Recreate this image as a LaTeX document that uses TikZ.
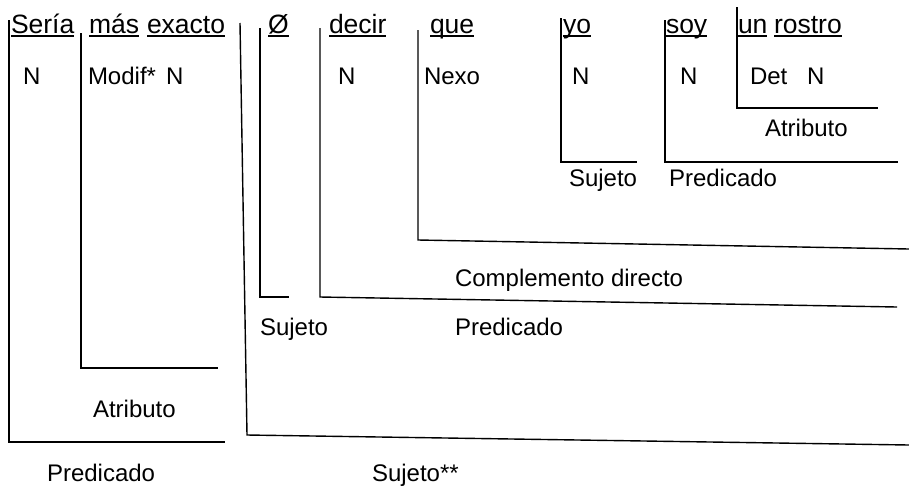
\documentclass[tikz,border=0pt]{standalone}
\usepackage{fontspec}
\setmainfont{Liberation Sans}
\begin{document}
\begin{tikzpicture}[x=1pt,y=-1pt,
  w/.style={inner sep=0pt,outer sep=0pt,anchor=base west,font=\fontsize{24}{28}\selectfont},
  tw/.style={w,font=\fontsize{26.5}{30}\selectfont},
  ln/.style={line width=1.4pt,line join=miter},
  ul/.style={line width=1.3pt}]
\useasboundingbox (0,0) rectangle (909,485);
% top words
\node[tw] (sa) at (11,33) {Sería};
\node[tw] (ma) at (89,33) {más};
\node[tw] (ex) at (147,33) {exacto};
\node[tw] (oo) at (268,33) {Ø};
\node[tw] (de) at (329,33) {decir};
\node[tw] (qu) at (430,33) {que};
\node[tw] (yo) at (563,33) {yo};
\node[tw] (so) at (666,33) {soy};
\node[tw] (un) at (738,33) {un};
\node[tw] (ro) at (774,33) {rostro};
\foreach \t in {sa,ma,ex,oo,de,qu,yo,so,un,ro}
  \draw[ul] ([yshift=-3pt]\t.base west) -- ([yshift=-3pt]\t.base east);
% second row
\node[w] (n1) at (23,84) {N};
\node[w] (mo) at (88,84) {Modif*};
\node[w] (n2) at (166,84) {N};
\node[w] (n3) at (338,84) {N};
\node[w] (ne) at (424,84) {Nexo};
\node[w] (n4) at (572,84) {N};
\node[w] (n5) at (680,84) {N};
\node[w] (dt) at (750,84) {Det};
\node[w] (n6) at (807,84) {N};
% function labels
\node[w] (at1) at (765,136) {Atributo};
\node[w] (su1) at (569,186) {Sujeto};
\node[w] (pr1) at (669,186) {Predicado};
\node[w] (cd) at (455,286) {Complemento directo};
\node[w] (su2) at (260,335) {Sujeto};
\node[w] (pr2) at (455,335) {Predicado};
\node[w] (at2) at (93,417) {Atributo};
\node[w] (pr3) at (47,481) {Predicado};
\node[w] (su3) at (372,481) {Sujeto**};
% bracket corners
\coordinate (a1) at (9,20);   \coordinate (a2) at (9,442);   \coordinate (a3) at (225,442);
\coordinate (b1) at (81,33);  \coordinate (b2) at (81,368);  \coordinate (b3) at (218,368);
\coordinate (c1) at (240,23); \coordinate (c2) at (247,435); \coordinate (c3) at (909,445);
\coordinate (d1) at (260,28); \coordinate (d2) at (260,297); \coordinate (d3) at (289,297);
\coordinate (e1) at (320,28); \coordinate (e2) at (320,297); \coordinate (e3) at (897,307);
\coordinate (f1) at (418,30); \coordinate (f2) at (418,240); \coordinate (f3) at (909,249);
\coordinate (g1) at (561,18); \coordinate (g2) at (561,162); \coordinate (g3) at (637,162);
\coordinate (h1) at (665,20); \coordinate (h2) at (665,162); \coordinate (h3) at (898,162);
\coordinate (i1) at (737,7);  \coordinate (i2) at (737,108); \coordinate (i3) at (878,108);
\foreach \p in {a,b,c,d,e,f,g,h,i}
  \draw[ln] (\p1) -- (\p2) -- (\p3);
\end{tikzpicture}
\end{document}
